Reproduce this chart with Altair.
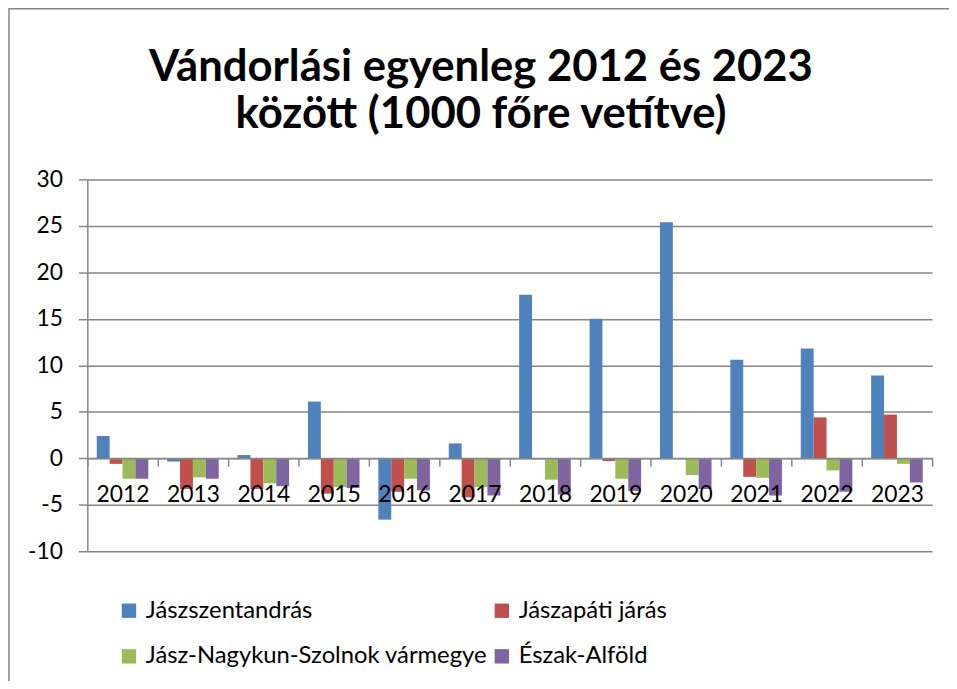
import altair as alt
import pandas as pd

years = ["2012", "2013", "2014", "2015", "2016", "2017", "2018", "2019", "2020", "2021", "2022", "2023"]
series = ["Jászszentandrás", "Jászapáti járás", "Jász-Nagykun-Szolnok vármegye", "Észak-Alföld"]
colors = ["#4F81BD", "#C0504D", "#9BBB59", "#8064A2"]
title_lines = ["Vándorlási egyenleg 2012 és 2023", "között (1000 főre vetítve)"]

jaszszentandras = [2.4, -0.35, 0.35, 6.1, -6.6, 1.6, 17.6, 15.0, 25.4, 10.6, 11.8, 8.9]
jaszapati = [-0.6, -3.3, -3.3, -3.8, -3.6, -4.2, -0.1, -0.3, 0.0, -2.0, 4.4, 4.7]
megye = [-2.2, -2.05, -2.7, -3.1, -2.2, -3.1, -2.3, -2.2, -1.8, -2.1, -1.3, -0.6]
alfold = [-2.2, -2.2, -3.0, -3.2, -3.45, -4.0, -3.9, -3.5, -3.3, -4.0, -3.6, -2.6]

values = [jaszszentandras, jaszapati, megye, alfold]
rows = []
for s, vals in zip(series, values):
    for y, v in zip(years, vals):
        rows.append({"year": y, "series": s, "value": v})
df = pd.DataFrame(rows)

FONT = "Lato"
GRAY = "#868686"
W, H = 852, 375

bars = alt.Chart(df).mark_bar().encode(
    x=alt.X("year:N", sort=years,
            scale=alt.Scale(paddingInner=0, paddingOuter=0),
            axis=alt.Axis(title=None, labelAngle=0, offset=-H / 4, tickBand="extent",
                          domainColor=GRAY, tickColor=GRAY, tickSize=8, domainWidth=1.5,
                          tickWidth=1.5, labelPadding=18, labelFontSize=23,
                          labelColor="black", labelFont=FONT, grid=False, zindex=1)),
    xOffset=alt.XOffset("series:N", sort=series,
                        scale=alt.Scale(domain=series, paddingInner=0, paddingOuter=0.73)),
    y=alt.Y("value:Q",
            scale=alt.Scale(domain=[-10, 30], nice=False, zero=False),
            axis=alt.Axis(title=None, values=list(range(-10, 31, 5)), labelExpr="'' + datum.value",
                          domainColor=GRAY, tickColor=GRAY, tickSize=9, domainWidth=1.5,
                          tickWidth=1.5, gridColor=GRAY, gridWidth=1.5, grid=True,
                          labelPadding=16, labelFontSize=23, labelColor="black", labelFont=FONT)),
    color=alt.Color("series:N", sort=series,
                    scale=alt.Scale(domain=series, range=colors),
                    legend=alt.Legend(title=None, orient="none", legendX=30, legendY=423,
                                      columns=2, direction="horizontal", symbolType="square",
                                      symbolSize=210, symbolStrokeWidth=0, symbolOpacity=1,
                                      labelFontSize=24, labelFont=FONT, labelColor="black",
                                      labelOffset=5, rowPadding=22, columnPadding=2,
                                      labelLimit=600)),
)

frame = alt.Chart(pd.DataFrame({"a": [0]})).mark_rect(
    fillOpacity=0, stroke=GRAY, strokeWidth=1.5
).encode(
    x=alt.value(-79), x2=alt.value(1000), y=alt.value(-172), y2=alt.value(700)
)

title_layers = []
for line, ypix in zip(title_lines, [-112, -65]):
    title_layers.append(
        alt.Chart(pd.DataFrame({"line": [line]})).mark_text(
            font=FONT, fontSize=44, fontWeight="bold", color="black",
            baseline="middle", align="center"
        ).encode(text="line:N", x=alt.value(397), y=alt.value(ypix))
    )

chart = alt.layer(frame, bars, *title_layers).properties(
    width=W, height=H,
    autosize=alt.AutoSizeParams(type="none"),
    padding={"left": 80, "top": 170, "right": 17, "bottom": 128},
    background="white",
).configure_view(stroke=None)

chart.save("out.html", embed_options={"renderer": "svg", "actions": False})
